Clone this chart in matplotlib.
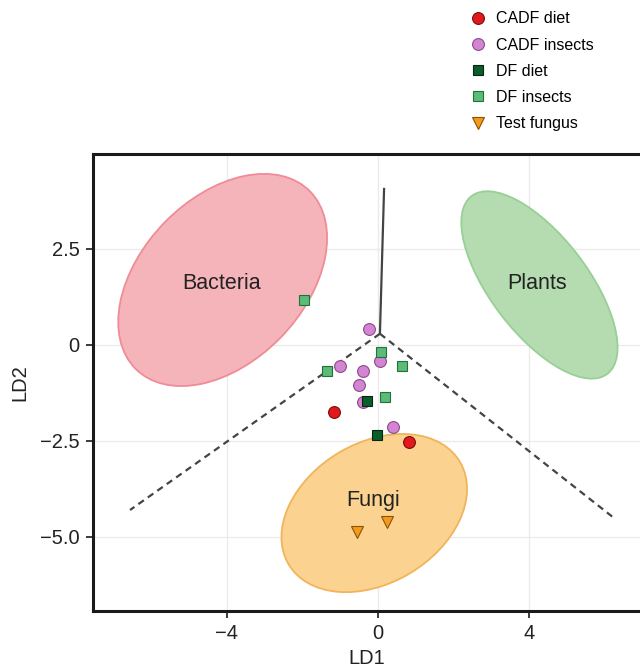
import matplotlib
matplotlib.use("Agg")
from matplotlib import pyplot as plt
from matplotlib.patches import Ellipse
from matplotlib.lines import Line2D

plt.rcParams['font.family'] = ['Liberation Sans', 'DejaVu Sans']

# Sample scores on the two discriminant axes
cadf_diet_x = [-1.16, 0.82]
cadf_diet_y = [-1.76, -2.54]
cadf_insects_x = [-0.23, -1.01, 0.05, -0.40, -0.50, -0.39, 0.39]
cadf_insects_y = [0.41, -0.54, -0.42, -0.68, -1.04, -1.48, -2.13]
df_diet_x = [-0.30, -0.03]
df_diet_y = [-1.46, -2.35]
df_insects_x = [0.08, -1.34, 0.63, 0.19, -1.96]
df_insects_y = [-0.19, -0.67, -0.55, -1.35, 1.17]
fungus_x = [-0.56, 0.25]
fungus_y = [-4.86, -4.60]

# Reference group ellipses: name, centre x, centre y, width, height, angle
group_names = ["Bacteria", "Plants", "Fungi"]
group_cx = [-4.11, 4.27, -0.10]
group_cy = [1.69, 1.56, -4.38]
group_w = [6.53, 5.86, 5.26]
group_h = [4.29, 2.56, 3.66]
group_angle = [45, -52, 30]
group_label_x = [-4.13, 4.21, -0.13]
group_label_y = [1.59, 1.59, -4.04]

# Decision boundaries (from the meeting point out to the edges)
bound_center = (0.05, 0.29)
bound_top = (0.16, 4.06)
bound_left = (-6.56, -4.30)
bound_right = (6.27, -4.53)

FILL = ["#f5b3ba", "#b5dcb1", "#fbd28f"]
EDGE = ["#ef8c97", "#98cf95", "#f2b45a"]
TEXT = "#222222"

fig = plt.figure(figsize=(6.4, 6.7), dpi=100)
ax = fig.add_axes([93 / 640, 1 - 611 / 670, 1 - 93 / 640, (611 - 154) / 670])

for i, name in enumerate(group_names):
    ax.add_patch(Ellipse((group_cx[i], group_cy[i]), group_w[i], group_h[i],
                         angle=group_angle[i], facecolor=FILL[i],
                         edgecolor=EDGE[i], linewidth=1.3, zorder=1))
    ax.text(group_label_x[i], group_label_y[i], name, ha="center", va="center",
            fontsize=15.5, color=TEXT, zorder=4)

line_kw = dict(color="#444444", linewidth=1.6, zorder=2)
ax.plot([bound_center[0], bound_top[0]], [bound_center[1], bound_top[1]], **line_kw)
ax.plot([bound_center[0], bound_left[0]], [bound_center[1], bound_left[1]],
        linestyle=(0, (3, 2.2)), **line_kw)
ax.plot([bound_center[0], bound_right[0]], [bound_center[1], bound_right[1]],
        linestyle=(0, (3, 2.2)), **line_kw)

series = [
    (cadf_diet_x, cadf_diet_y, "o", "#e2191c", "#7a0c0c", 8.5, "CADF diet"),
    (cadf_insects_x, cadf_insects_y, "o", "#d384d2", "#8a4a88", 8.5, "CADF insects"),
    (df_diet_x, df_diet_y, "s", "#0b5d2a", "#0a2412", 7, "DF diet"),
    (df_insects_x, df_insects_y, "s", "#5cbb78", "#23703a", 7, "DF insects"),
    (fungus_x, fungus_y, "v", "#f39a1e", "#8a5208", 8.5, "Test fungus"),
]
handles = []
for xs, ys, mk, fc, ec, ms, lab in series:
    ax.plot(xs, ys, linestyle="none", marker=mk, markersize=ms,
            markerfacecolor=fc, markeredgecolor=ec, markeredgewidth=0.8, zorder=3)
    handles.append(Line2D([], [], linestyle="none", marker=mk, markersize=ms,
                          markerfacecolor=fc, markeredgecolor=ec,
                          markeredgewidth=0.8, label=lab))

ax.set_xlim(-7.54, 6.93)
ax.set_ylim(-6.93, 4.97)
ax.set_xticks([-4, 0, 4])
ax.set_xticklabels(["\u22124", "0", "4"])
ax.set_yticks([2.5, 0, -2.5, -5.0])
ax.set_yticklabels(["2.5", "0", "\u22122.5", "\u22125.0"])
ax.grid(color="#ebebeb", linewidth=1.0)
ax.set_axisbelow(True)
for side in ("left", "top", "bottom"):
    ax.spines[side].set_linewidth(2.2)
    ax.spines[side].set_color("#1a1a1a")
ax.spines["right"].set_visible(False)
ax.tick_params(axis="both", direction="out", length=5, width=1.2, pad=4.5,
               color="#1a1a1a", labelsize=14.5, labelcolor=TEXT)
ax.set_xlabel("LD1", fontsize=14.5, color=TEXT, labelpad=4.5)
ax.set_ylabel("LD2", fontsize=14.5, color=TEXT, labelpad=8)

fig.legend(handles=handles, loc="upper left", bbox_to_anchor=(462 / 640, 1 - 5 / 670),
           frameon=False, fontsize=11.5, labelspacing=0.7, handletextpad=0.5,
           handlelength=1.2, borderaxespad=0)

fig.savefig("out.png", dpi=100)
